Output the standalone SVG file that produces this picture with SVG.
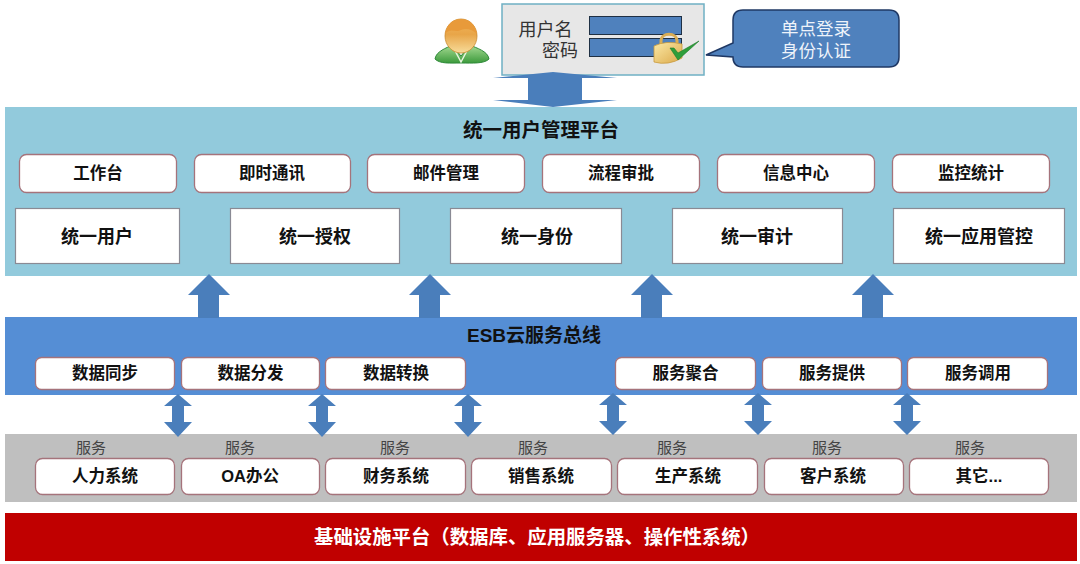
<svg xmlns="http://www.w3.org/2000/svg" width="1080" height="564" viewBox="0 0 1080 564">
<defs>
<style>
text{font-family:"Liberation Sans","Noto Sans CJK SC",sans-serif;text-anchor:middle}
.b{font-weight:700;fill:#111;font-size:16.500px}
.bl{font-weight:700;fill:#111;font-size:18px}
.s{fill:#444;font-size:15px}
.r{fill:#fff;stroke:#a5737b;stroke-width:1.3}
.q{fill:#fff;stroke:#8a8a94;stroke-width:1.2}
.a{fill:#4a7ebb}
</style>
<linearGradient id="hd" x1="0" y1="0" x2="0" y2="1"><stop offset="0" stop-color="#f3b75c"/><stop offset=".45" stop-color="#e8a548"/><stop offset="1" stop-color="#f7dc9a"/></linearGradient>
<linearGradient id="bd" x1="0" y1="0" x2="0" y2="1"><stop offset="0" stop-color="#a8dc94"/><stop offset="1" stop-color="#3c9a3c"/></linearGradient>
<linearGradient id="lk" x1="0" y1="0" x2="1" y2="1"><stop offset="0" stop-color="#fbe9a6"/><stop offset="1" stop-color="#dba94a"/></linearGradient>
</defs>

<g id="platform-user"><rect x="5" y="107" width="1072" height="169" fill="#92cadc"/><text x="541" y="137" style="font-weight:700;fill:#111;font-size:19.500px">统一用户管理平台</text></g>
<g id="platform-esb"><rect x="5" y="317" width="1072" height="78" fill="#558ed5"/><text x="534" y="342" style="font-weight:700;fill:#111;font-size:19px">ESB云服务总线</text></g>
<g id="platform-systems"><rect x="5" y="434" width="1072" height="68" fill="#bfbfbf"/></g>
<g id="platform-infra"><rect x="5" y="513" width="1072" height="48" fill="#c00000"/><text x="537" y="544" style="font-weight:700;fill:#fff;font-size:19.400px">基础设施平台（数据库、应用服务器、操作性系统）</text></g>

<g id="login-box">
<rect x="502" y="4" width="202" height="71" fill="#e7e7e7" stroke="#6fb0c4" stroke-width="1.5"/>
<text x="545.500" y="36" style="fill:#333;font-size:18px">用户名</text>
<text x="560" y="57" style="fill:#333;font-size:18px">密码</text>
<rect x="589.500" y="16.500" width="92" height="18" fill="#4f81bd" stroke="#1f3044"/>
<rect x="589.500" y="38.500" width="92" height="18" fill="#4f81bd" stroke="#1f3044"/>
<path d="M661 44V41C661 32 677 32 677 41V44" fill="none" stroke="#d9ad55" stroke-width="3"/>
<path d="M654 46Q666 40 682 44V58Q668 66 654 62Z" fill="url(#lk)" stroke="#c99a3e" stroke-width=".8"/>
<path d="M670 48L674 48L678 53L699 41L678 60Z" fill="#2e9e3a" stroke="#1c7a28" stroke-width=".6"/>
</g>

<g id="connectors">
<path class="a" d="M493 78L553 72L617 78H582V100H617L553 107L493 100H528V78Z"/>
<path id="up1" class="a" d="M209 274L230 295H219V318H198V295H188Z"/>
<path id="up2" class="a" d="M430 274L451 295H440V318H419V295H409Z"/>
<path id="up3" class="a" d="M652 274L673 295H662V318H641V295H631Z"/>
<path id="up4" class="a" d="M873 274L894 295H883V318H862V295H852Z"/>
<path id="dbl1" class="a" d="M178 394L192 406H184V422H192L178 437L164 422H172V406H164Z"/>
<path id="dbl2" class="a" d="M322 394L336 406H328V422H336L322 437L308 422H316V406H308Z"/>
<path id="dbl3" class="a" d="M468 394L482 406H474V422H482L468 437L454 422H462V406H454Z"/>
<path id="dbl4" class="a" d="M613 393L627 405H619V421H627L613 435L599 421H607V405H599Z"/>
<path id="dbl5" class="a" d="M758 393L772 405H764V421H772L758 435L744 421H752V405H744Z"/>
<path id="dbl6" class="a" d="M907 393L921 405H913V421H921L907 435L893 421H901V405H893Z"/>
</g>

<g id="user-icon">
<path d="M435 59C436 51 447 48 452 45L461 56L470 45C476 48 488 51 489 59C484 64 472 63 461 63C450 63 440 64 435 59Z" fill="url(#bd)" stroke="#2f8a3a"/>
<path d="M452 45L461 62L470 45" fill="none" stroke="#e9f6df" stroke-width="1.500"/>
<ellipse cx="461" cy="36" rx="16" ry="17" fill="url(#hd)" stroke="#c9892e" stroke-width=".8"/>
<path d="M445 34C450 27 456 33 461 30C466 28 472 29 477 34C475 22 467 19 461 19C455 19 447 22 445 34Z" fill="#e89a3a"/>
</g>
<g id="callout"><path d="M743 10H889Q899 10 899 20V57Q899 67 889 67H743Q733 67 733 57L706 55L733 43V20Q733 10 743 10Z" fill="#4f81bd" stroke="#1f3864" stroke-width="1.500"/>
<text x="816" y="35" style="fill:#eef3fa;font-size:17.500px">单点登录</text><text x="816" y="57" style="fill:#eef3fa;font-size:17.500px">身份认证</text></g>

<g id="apps">
<g id="app-1"><rect class="r" x="19.500" y="154.500" width="157" height="38" rx="7"/><text x="98" y="179" class="b">工作台</text></g>
<g id="app-2"><rect class="r" x="194.500" y="154.500" width="156" height="38" rx="7"/><text x="272" y="179" class="b">即时通讯</text></g>
<g id="app-3"><rect class="r" x="367.500" y="154.500" width="157" height="38" rx="7"/><text x="446" y="179" class="b">邮件管理</text></g>
<g id="app-4"><rect class="r" x="542.500" y="154.500" width="157" height="38" rx="7"/><text x="621" y="179" class="b">流程审批</text></g>
<g id="app-5"><rect class="r" x="717.500" y="154.500" width="157" height="38" rx="7"/><text x="796" y="179" class="b">信息中心</text></g>
<g id="app-6"><rect class="r" x="892.500" y="154.500" width="157" height="38" rx="7"/><text x="971" y="179" class="b">监控统计</text></g>
</g>
<g id="unified">
<g id="u-1"><rect class="q" x="15.500" y="208.500" width="164" height="55"/><text x="97" y="243" class="bl">统一用户</text></g>
<g id="u-2"><rect class="q" x="230.500" y="208.500" width="169" height="55"/><text x="315" y="243" class="bl">统一授权</text></g>
<g id="u-3"><rect class="q" x="450.500" y="208.500" width="171" height="55"/><text x="537" y="243" class="bl">统一身份</text></g>
<g id="u-4"><rect class="q" x="672.500" y="208.500" width="170" height="55"/><text x="757" y="243" class="bl">统一审计</text></g>
<g id="u-5"><rect class="q" x="893.500" y="208.500" width="171" height="55"/><text x="979" y="243" class="bl">统一应用管控</text></g>
</g>
<g id="esb">
<g id="e-1"><rect class="r" x="35.500" y="357.500" width="139" height="32" rx="6"/><text x="105" y="379" class="b">数据同步</text></g>
<g id="e-2"><rect class="r" x="181.500" y="357.500" width="138" height="32" rx="6"/><text x="250.500" y="379" class="b">数据分发</text></g>
<g id="e-3"><rect class="r" x="325.500" y="357.500" width="140" height="32" rx="6"/><text x="396" y="379" class="b">数据转换</text></g>
<g id="e-4"><rect class="r" x="615.500" y="357.500" width="140" height="32" rx="6"/><text x="685.500" y="379" class="b">服务聚合</text></g>
<g id="e-5"><rect class="r" x="762.500" y="357.500" width="139" height="32" rx="6"/><text x="832" y="379" class="b">服务提供</text></g>
<g id="e-6"><rect class="r" x="907.500" y="357.500" width="140" height="32" rx="6"/><text x="978" y="379" class="b">服务调用</text></g>
</g>
<g id="systems">
<g id="s-1"><text x="91" y="453" class="s">服务</text><rect class="r" x="35.500" y="458.500" width="139" height="36" rx="7"/><text x="105" y="482" class="b">人力系统</text></g>
<g id="s-2"><text x="240" y="453" class="s">服务</text><rect class="r" x="181.500" y="458.500" width="138" height="36" rx="7"/><text x="250" y="482" class="b">OA办公</text></g>
<g id="s-3"><text x="395" y="453" class="s">服务</text><rect class="r" x="325.500" y="458.500" width="140" height="36" rx="7"/><text x="396" y="482" class="b">财务系统</text></g>
<g id="s-4"><text x="533" y="453" class="s">服务</text><rect class="r" x="471.500" y="458.500" width="140" height="36" rx="7"/><text x="541" y="482" class="b">销售系统</text></g>
<g id="s-5"><text x="672" y="453" class="s">服务</text><rect class="r" x="617.500" y="458.500" width="140" height="36" rx="7"/><text x="688" y="482" class="b">生产系统</text></g>
<g id="s-6"><text x="827" y="453" class="s">服务</text><rect class="r" x="764.500" y="458.500" width="139" height="36" rx="7"/><text x="833" y="482" class="b">客户系统</text></g>
<g id="s-7"><text x="970" y="453" class="s">服务</text><rect class="r" x="909.500" y="458.500" width="139" height="36" rx="7"/><text x="979" y="482" class="b">其它...</text></g>
</g>
</svg>
